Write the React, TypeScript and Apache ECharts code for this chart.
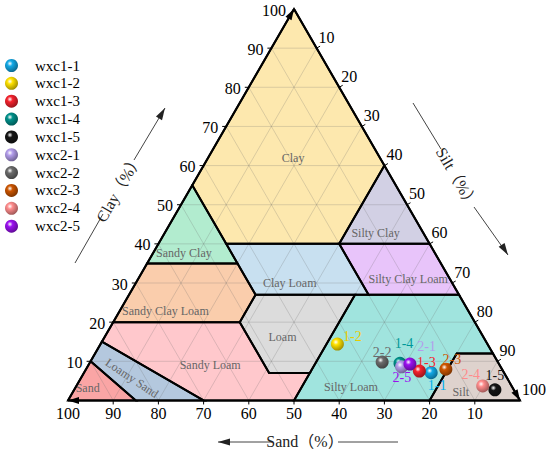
import React, { useEffect, useRef } from "react";
import * as echarts from "echarts";

const SQ3 = Math.sqrt(3) / 2;

// ---------- data ----------
const regionNames = [
  "Clay", "Sandy Clay", "Silty Clay", "Sandy Clay Loam", "Clay Loam", "Silty Clay Loam",
  "Loam", "Silty Loam", "Sandy Loam", "Loamy Sand", "Sand", "Silt",
];
// polygons as [sand, clay] vertices (silt = 100 - sand - clay)
const regionPolygons: number[][][] = [
  [[0, 100], [45, 55], [45, 40], [20, 40], [0, 60]],
  [[45, 55], [65, 35], [45, 35], [45, 40]],
  [[0, 60], [20, 40], [0, 40]],
  [[65, 35], [80, 20], [52, 20], [45, 27], [45, 35]],
  [[45, 40], [45, 27], [20, 27], [20, 40]],
  [[20, 40], [20, 27], [0, 27], [0, 40]],
  [[45, 27], [23, 27], [43, 7], [52, 7], [52, 20]],
  [[23, 27], [0, 27], [0, 12], [8, 12], [20, 0], [50, 0], [43, 7]],
  [[80, 20], [52, 20], [52, 7], [43, 7], [50, 0], [70, 0], [85, 15]],
  [[90, 10], [85, 15], [70, 0], [85, 0]],
  [[90, 10], [85, 0], [100, 0]],
  [[0, 12], [0, 0], [20, 0], [8, 12]],
];
const regionLabelPos: number[][] = [
  [19.2, 62.0], [55.5, 37.7], [10.5, 42.9], [67, 22.9], [35.9, 30.1], [9.3, 30.9],
  [44.5, 16.1], [35.7, 3.4], [64, 9.1], [83, 5.7], [94.1, 3.1], [12, 2.2],
];
const tickValues = [10, 20, 30, 40, 50, 60, 70, 80, 90, 100];
const gridValues = [10, 20, 30, 40, 50, 60, 70, 80, 90];

const sampleNames = ["wxc1-1", "wxc1-2", "wxc1-3", "wxc1-4", "wxc1-5", "wxc2-1", "wxc2-2", "wxc2-3", "wxc2-4", "wxc2-5"];
const sampleLabels = ["1-1", "1-2", "1-3", "1-4", "1-5", "2-1", "2-2", "2-3", "2-4", "2-5"];
const sampleSand = [16.1, 33.2, 18.5, 21.8, 4.2, 21.9, 25.6, 12.4, 6.4, 19.7];
const sampleSilt = [76.8, 52.4, 74.0, 68.7, 93.1, 69.5, 64.6, 79.6, 89.9, 71.0];
const sampleClay = [7.1, 14.4, 7.5, 9.5, 2.7, 8.6, 9.8, 8.0, 3.7, 9.3];

// ---------- styles ----------
const regionColors = [
  "#FDE8AE", "#B2ECCF", "#D2D0E4", "#FACDAC", "#C8E0F0", "#E8C4FA",
  "#DCDCDC", "#A0E4DE", "#FFC8CC", "#B4C8DE", "#FAA5A5", "#DED2CD",
];
const regionLabelRot = [0, 0, 0, 0, 0, 0, 0, 0, 0, -0.59, 0, 0];
const sampleColors = ["#12A9E6", "#FFE200", "#F5222D", "#00908A", "#151515", "#B39DEB", "#6B6B6B", "#CC5500", "#FF8C8C", "#9B10F0"];
const labelColors = ["#00AEEF", "#E8CC00", "#F5222D", "#00999A", "#111111", "#B39DEB", "#6B6B6B", "#CC5500", "#FF8C8C", "#9B10F0"];
const labelOffsets = [[6, 13], [15, -8], [7, -9], [4, -20], [0, -14], [25, -20], [0, -10], [6, -10], [-12, -11], [-8, 13]];

const SERIF = "'Liberation Serif', 'Times New Roman', serif";
const TITLE_FONT = "'Liberation Serif', 'Noto Sans CJK SC', serif";

const toXY = (sand: number, clay: number) => [100 - sand - clay / 2, clay * SQ3];
const P = (api: any, s: number, c: number) => api.coord(toXY(s, c));

function darken(hex: string, f: number) {
  const n = parseInt(hex.slice(1), 16);
  const r = Math.round(((n >> 16) & 255) * f);
  const g = Math.round(((n >> 8) & 255) * f);
  const b = Math.round((n & 255) * f);
  return `rgb(${r},${g},${b})`;
}
function sphere(c: string) {
  return {
    type: "radial", x: 0.38, y: 0.35, r: 0.7,
    colorStops: [
      { offset: 0, color: "#ffffff" },
      { offset: 0.3, color: c },
      { offset: 1, color: darken(c, 0.6) },
    ],
  };
}
function arrowHead(tip: number[], from: number[], len = 11, w = 3.5) {
  const dx = tip[0] - from[0], dy = tip[1] - from[1];
  const d = Math.hypot(dx, dy);
  const ux = dx / d, uy = dy / d;
  const bx = tip[0] - ux * len, by = tip[1] - uy * len;
  return [tip, [bx - uy * w, by + ux * w], [bx + uy * w, by - ux * w]];
}
function txt(x: number, y: number, text: string, align: string, vAlign: string, font: string, fill: string, rotation = 0) {
  return {
    type: "text", x, y, rotation,
    style: { text, font, fill, align, verticalAlign: vAlign, textAlign: align, textVerticalAlign: vAlign },
  };
}

export default function App() {
  const ref = useRef<HTMLDivElement>(null);
  useEffect(() => {
    const chart = echarts.init(ref.current!, null, { renderer: "svg" });

    const fills = {
      type: "custom", z: 1, silent: true, clip: false,
      data: regionNames.map((_, i) => [i]),
      renderItem: (_p: any, api: any) => {
        const i = api.value(0);
        return { type: "polygon", shape: { points: regionPolygons[i].map(([s, c]) => P(api, s, c)) }, style: { fill: regionColors[i], stroke: "none" } };
      },
    };
    const grid = {
      type: "custom", z: 2, silent: true, clip: false,
      data: gridValues.map((v) => [v]),
      renderItem: (_p: any, api: any) => {
        const v = api.value(0);
        const st = { stroke: "rgba(110,110,110,0.3)", lineWidth: 0.8 };
        const seg = (a: number[], b: number[]) => ({ type: "line", shape: { x1: a[0], y1: a[1], x2: b[0], y2: b[1] }, style: st });
        return {
          type: "group",
          children: [
            seg(P(api, 100 - v, v), P(api, 0, v)),
            seg(P(api, v, 0), P(api, v, 100 - v)),
            seg(P(api, 100 - v, 0), P(api, 0, 100 - v)),
          ],
        };
      },
    };
    const borders = {
      type: "custom", z: 3, silent: true, clip: false,
      data: regionNames.map((_, i) => [i]),
      renderItem: (_p: any, api: any) => {
        const i = api.value(0);
        return { type: "polygon", shape: { points: regionPolygons[i].map(([s, c]) => P(api, s, c)) }, style: { fill: "none", stroke: "#000", lineWidth: 2, lineJoin: "miter" } };
      },
    };
    const labels = {
      type: "custom", z: 4, silent: true, clip: false,
      data: regionNames.map((_, i) => [i]),
      renderItem: (_p: any, api: any) => {
        const i = api.value(0);
        const p = P(api, regionLabelPos[i][0], regionLabelPos[i][1]);
        return txt(p[0], p[1], regionNames[i], "center", "middle", `12px ${SERIF}`, "#666", regionLabelRot[i]);
      },
    };
    const frame = {
      type: "custom", z: 5, silent: true, clip: false,
      data: [[0]],
      renderItem: (_p: any, api: any) => {
        const BL = P(api, 100, 0), BR = P(api, 0, 0), T = P(api, 0, 100);
        const ln = (a: number[], b: number[]) => ({ type: "line", shape: { x1: a[0], y1: a[1], x2: b[0], y2: b[1] }, style: { stroke: "#000", lineWidth: 2 } });
        const ah = (tip: number[], from: number[]) => ({ type: "polygon", shape: { points: arrowHead(tip, from) }, style: { fill: "#000" } });
        return { type: "group", children: [ln(BL, T), ln(T, BR), ln(BR, BL), ah(T, BL), ah(BR, T), ah(BL, BR)] };
      },
    };
    const ticks = {
      type: "custom", z: 5, silent: true, clip: false,
      data: tickValues.map((v) => [v]),
      renderItem: (_p: any, api: any) => {
        const v = api.value(0);
        const b = P(api, v, 0);
        const l = P(api, 100 - v, v);
        const r = P(api, 0, 100 - v);
        const font = `16px ${SERIF}`;
        const tk = (a: number[], dx: number, dy: number) => ({ type: "line", shape: { x1: a[0], y1: a[1], x2: a[0] + dx, y2: a[1] + dy }, style: { stroke: "#000", lineWidth: 1 } });
        const ch: any[] = [
          txt(b[0], b[1] + 13, String(v), "center", "middle", font, "#000"),
          txt(l[0] - 8, l[1] + 1, String(v), "right", "middle", font, "#000"),
          txt(r[0] + 2, r[1] - 11, String(v), "left", "middle", font, "#000"),
        ];
        if (v < 100) {
          ch.push(tk(b, 0, 4), tk(l, -4, 0), tk(r, 3.5, -2));
        }
        return { type: "group", children: ch };
      },
    };

    const scatters = sampleNames.map((name, i) => ({
      type: "scatter", name, z: 10,
      symbol: "circle", symbolSize: 13,
      data: [[sampleSilt[i] + sampleClay[i] / 2, sampleClay[i] * SQ3]],
      itemStyle: { color: sphere(sampleColors[i]), opacity: 1 },
      label: {
        show: true, position: "inside", offset: labelOffsets[i], formatter: sampleLabels[i],
        color: labelColors[i], fontSize: 14, fontFamily: SERIF,
      },
    }));

    const lineSt = { stroke: "#444", lineWidth: 1 };
    const gl = (a: number[], b: number[]) => ({ type: "line", shape: { x1: a[0], y1: a[1], x2: b[0], y2: b[1] }, style: lineSt, silent: true });
    const ga = (tip: number[], from: number[]) => ({ type: "polygon", shape: { points: arrowHead(tip, from, 12, 3.5) }, style: { fill: "#222" }, silent: true });
    const gt = (x: number, y: number, text: string, rot: number) => ({
      type: "text", x, y, rotation: rot, silent: true,
      style: { text, font: `16px ${TITLE_FONT}`, fill: "#222", align: "center", verticalAlign: "middle", textAlign: "center", textVerticalAlign: "middle" },
    });

    chart.setOption({
      animation: false,
      backgroundColor: "#fff",
      grid: { left: 68, top: 9, width: 452, height: 452 * SQ3 },
      xAxis: { type: "value", min: 0, max: 100, show: false },
      yAxis: { type: "value", min: 0, max: 100 * SQ3, show: false },
      legend: {
        data: sampleNames, orient: "vertical", left: 0, top: 53,
        itemWidth: 37, itemHeight: 13, itemGap: 2.85, icon: "circle",
        textStyle: { fontSize: 15, fontFamily: SERIF, color: "#000", lineHeight: 14 },
        selectedMode: false,
      },
      graphic: [
        gl([218, 442], [272, 442]), gl([338, 442], [398, 442]), ga([218, 442], [398, 442]),
        gt(305, 441, "Sand（%）", 0),
        gl([75, 263], [103, 214]), gl([134, 160], [165, 108]), ga([165, 108], [75, 263]),
        gt(119, 188, "Clay（%）", Math.PI / 3),
        gl([413, 103], [441, 149]), gl([474, 207], [508, 255]), ga([508, 255], [413, 103]),
        gt(457, 178, "Silt（%）", -Math.PI / 3),
      ],
      series: [fills, grid, borders, labels, frame, ticks, ...scatters],
    } as any);
    return () => chart.dispose();
  }, []);
  return <div ref={ref} style={{ position: "absolute", left: 0, top: 0, width: 550, height: 452 }} />;
}
